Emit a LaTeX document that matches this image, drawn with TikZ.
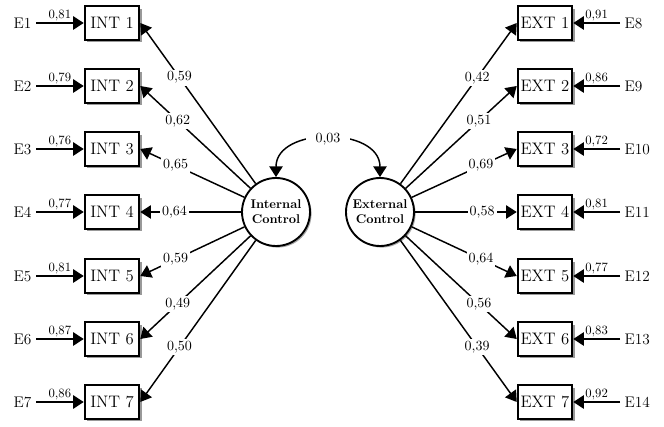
\documentclass[tikz,border=0pt]{standalone}
\usetikzlibrary{arrows.meta,shadows}

\tikzstyle{item}=[draw, line width=1.4pt, fill=white, minimum width=41pt, minimum height=25pt, inner sep=1pt, font=\fontsize{12.5}{14}\selectfont, drop shadow={shadow xshift=2pt, shadow yshift=-2pt, opacity=1, fill=black!40}]
\tikzstyle{factor}=[circle, draw, line width=1.4pt, fill=white, minimum size=51pt, inner sep=0pt, align=center, font=\bfseries\fontsize{9.5}{11}\selectfont, drop shadow={shadow xshift=1.2pt, shadow yshift=-1.2pt, opacity=1, fill=black!35}]
\tikzstyle{errl}=[anchor=east, font=\fontsize{11.5}{13}\selectfont]
\tikzstyle{errr}=[anchor=west, font=\fontsize{11.5}{13}\selectfont]
\tikzstyle{eps}=[-{Triangle[length=8pt,width=10pt]}, line width=1.5pt]
\tikzstyle{load}=[-{Triangle[length=8pt,width=10pt]}, line width=1.1pt]
\tikzstyle{cov}=[{Triangle[length=8pt,width=10pt]}-{Triangle[length=8pt,width=10pt]}, line width=1.1pt]
\tikzstyle{coef}=[fill=white, inner sep=1.5pt, font=\fontsize{10.5}{12}\selectfont]
\tikzstyle{evar}=[above, inner sep=1pt, font=\fontsize{9.5}{11}\selectfont]

\begin{document}
\begin{tikzpicture}[x=0.75pt, y=-0.75pt]
            \useasboundingbox (0,0) rectangle (664,427);
            % latent factors
            \node[factor] at (276,212) (ic) {Internal\\Control};
            \node[factor] at (380,212) (ec) {External\\Control};
            \draw (ic.north) edge[cov, out=90, in=90, looseness=1.25] node[coef, inner xsep=7pt]{0,03} (ec.north);
            % internal items
            \node[item] at (112,23) (int1) {INT 1};
            \node[item] at (112,86) (int2) {INT 2};
            \node[item] at (112,149) (int3) {INT 3};
            \node[item] at (112,212) (int4) {INT 4};
            \node[item] at (112,276) (int5) {INT 5};
            \node[item] at (112,339) (int6) {INT 6};
            \node[item] at (112,402) (int7) {INT 7};
            \node[errl] at (36,23) (e1) {E1};
            \node[errl] at (36,86) (e2) {E2};
            \node[errl] at (36,149) (e3) {E3};
            \node[errl] at (36,212) (e4) {E4};
            \node[errl] at (36,276) (e5) {E5};
            \node[errl] at (36,339) (e6) {E6};
            \node[errl] at (36,402) (e7) {E7};
            \draw (e1) edge[eps] node[evar]{0,81} (int1);
            \draw (e2) edge[eps] node[evar]{0,79} (int2);
            \draw (e3) edge[eps] node[evar]{0,76} (int3);
            \draw (e4) edge[eps] node[evar]{0,77} (int4);
            \draw (e5) edge[eps] node[evar]{0,81} (int5);
            \draw (e6) edge[eps] node[evar]{0,87} (int6);
            \draw (e7) edge[eps] node[evar]{0,86} (int7);
            \draw (ic) edge[load] node[coef, pos=0.66]{0,59} (int1.east);
            \draw (ic) edge[load] node[coef, pos=0.66]{0,62} (int2.east);
            \draw (ic) edge[load] node[coef, pos=0.66]{0,65} (int3.east);
            \draw (ic) edge[load] node[coef, pos=0.66]{0,64} (int4.east);
            \draw (ic) edge[load] node[coef, pos=0.66]{0,59} (int5.east);
            \draw (ic) edge[load] node[coef, pos=0.66]{0,49} (int6.east);
            \draw (ic) edge[load] node[coef, pos=0.66]{0,50} (int7.east);
            % external items
            \node[item] at (545,23) (ext1) {EXT 1};
            \node[item] at (545,86) (ext2) {EXT 2};
            \node[item] at (545,149) (ext3) {EXT 3};
            \node[item] at (545,212) (ext4) {EXT 4};
            \node[item] at (545,276) (ext5) {EXT 5};
            \node[item] at (545,339) (ext6) {EXT 6};
            \node[item] at (545,402) (ext7) {EXT 7};
            \node[errr] at (620,23) (e8) {E8};
            \node[errr] at (620,86) (e9) {E9};
            \node[errr] at (620,149) (e10) {E10};
            \node[errr] at (620,212) (e11) {E11};
            \node[errr] at (620,276) (e12) {E12};
            \node[errr] at (620,339) (e13) {E13};
            \node[errr] at (620,402) (e14) {E14};
            \draw (e8) edge[eps] node[evar]{0,91} (ext1);
            \draw (e9) edge[eps] node[evar]{0,86} (ext2);
            \draw (e10) edge[eps] node[evar]{0,72} (ext3);
            \draw (e11) edge[eps] node[evar]{0,81} (ext4);
            \draw (e12) edge[eps] node[evar]{0,77} (ext5);
            \draw (e13) edge[eps] node[evar]{0,83} (ext6);
            \draw (e14) edge[eps] node[evar]{0,92} (ext7);
            \draw (ec) edge[load] node[coef, pos=0.66]{0,42} (ext1.west);
            \draw (ec) edge[load] node[coef, pos=0.66]{0,51} (ext2.west);
            \draw (ec) edge[load] node[coef, pos=0.66]{0,69} (ext3.west);
            \draw (ec) edge[load] node[coef, pos=0.66]{0,58} (ext4.west);
            \draw (ec) edge[load] node[coef, pos=0.66]{0,64} (ext5.west);
            \draw (ec) edge[load] node[coef, pos=0.66]{0,56} (ext6.west);
            \draw (ec) edge[load] node[coef, pos=0.66]{0,39} (ext7.west);
\end{tikzpicture}
\end{document}
